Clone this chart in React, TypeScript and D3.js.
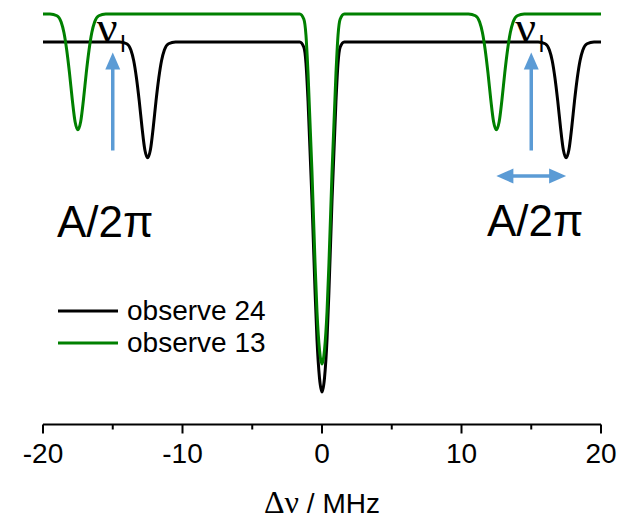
import React from "react";
import * as d3 from "d3";

// Frequency offset (MHz) and relative signal for the two traces
const black24X = [-20, -14.5, -14.0, -13.7, -13.5, -13.3, -13.1, -12.9, -12.7, -12.5, -12.3, -12.1, -11.9, -11.7, -11.5, -11.3, -11.0, -10.5,
  -1.6, -1.3, -1.15, -1.0, -0.72, -0.5, -0.36, -0.18, 0, 0.18, 0.36, 0.5, 0.72, 1.0, 1.15, 1.3, 1.6,
  15.5, 16.0, 16.3, 16.5, 16.7, 16.9, 17.1, 17.3, 17.5, 17.7, 17.9, 18.1, 18.3, 18.5, 18.7, 19.0, 19.5, 20];
const black24Y = [0, 0, -0.005, -0.023, -0.053, -0.103, -0.169, -0.245, -0.308, -0.331, -0.308, -0.245, -0.169, -0.103, -0.053, -0.023, -0.005, 0,
  0, -0.015, -0.06, -0.17, -0.45, -0.71, -0.85, -0.96, -1.0, -0.96, -0.85, -0.71, -0.45, -0.17, -0.06, -0.015, 0,
  0, -0.005, -0.023, -0.053, -0.103, -0.169, -0.245, -0.308, -0.331, -0.308, -0.245, -0.169, -0.103, -0.053, -0.023, -0.005, 0, 0];

const green13X = [-20, -19.5, -19.0, -18.7, -18.5, -18.3, -18.1, -17.9, -17.7, -17.5, -17.3, -17.1, -16.9, -16.7, -16.5, -16.3, -16.0, -15.5,
  -1.6, -1.3, -1.15, -1.0, -0.72, -0.5, -0.36, -0.18, 0, 0.18, 0.36, 0.5, 0.72, 1.0, 1.15, 1.3, 1.6,
  10.5, 11.0, 11.3, 11.5, 11.7, 11.9, 12.1, 12.3, 12.5, 12.7, 12.9, 13.1, 13.3, 13.5, 13.7, 14.0, 14.5, 20];
const green13Y = [0.08, 0.08, 0.075, 0.057, 0.027, -0.023, -0.089, -0.165, -0.228, -0.251, -0.228, -0.165, -0.089, -0.023, 0.027, 0.057, 0.075, 0.08,
  0.08, 0.065, 0.02, -0.09, -0.37, -0.63, -0.77, -0.88, -0.92, -0.88, -0.77, -0.63, -0.37, -0.09, 0.02, 0.065, 0.08,
  0.08, 0.075, 0.057, 0.027, -0.023, -0.089, -0.165, -0.228, -0.251, -0.228, -0.165, -0.089, -0.023, 0.027, 0.057, 0.075, 0.08, 0.08];

const seriesNames = ["observe 24", "observe 13"];
const seriesColors = ["#000000", "#008000"];

const majorTicks = [-20, -10, 0, 10, 20];
const minorTicks = [-15, -5, 5, 15];

// Annotation anchors (MHz, signal)
const larmorX = [-15, 15];
const arrowFrom = -0.31;
const arrowTo = -0.03;
const splitting = [12.5, 17.5];
const splitY = -0.383;

const BLUE = "#5B9BD5";
const SANS = "'Liberation Sans', Arial, sans-serif";
const SERIF = "'Liberation Serif', 'Times New Roman', serif";

export default function App() {
  const W = 621, H = 521;
  const x = d3.scaleLinear().domain([-20, 20]).range([43, 601]);
  const y = d3.scaleLinear().domain([-1, 0.08]).range([392, 14]);
  const axisY = 424.5;

  const line = d3
    .line<[number, number]>()
    .x((d) => x(d[0]))
    .y((d) => y(d[1]))
    .curve(d3.curveMonotoneX);

  const blackPts = black24X.map((v, i) => [v, black24Y[i]] as [number, number]);
  const greenPts = green13X.map((v, i) => [v, green13Y[i]] as [number, number]);

  const headLen = 17, headHalf = 7.5;

  return (
    <svg width={W} height={H} style={{ position: "absolute", left: 0, top: 0, background: "#fff" }}>
      <path d={line(blackPts) || ""} fill="none" stroke={seriesColors[0]} strokeWidth={3} strokeLinejoin="round" />
      <path d={line(greenPts) || ""} fill="none" stroke={seriesColors[1]} strokeWidth={3} strokeLinejoin="round" />

      {/* nuclear Larmor frequency markers */}
      {larmorX.map((lx, i) => {
        const cx = x(lx);
        const yb = y(arrowFrom);
        const yt = y(arrowTo);
        return (
          <g key={"lar" + i}>
            <line x1={cx} x2={cx} y1={yb} y2={yt + headLen - 1} stroke={BLUE} strokeWidth={3.5} />
            <polygon points={`${cx},${yt} ${cx - headHalf},${yt + headLen} ${cx + headHalf},${yt + headLen}`} fill={BLUE} />
            <text x={cx - 16} y={43} fontFamily={SERIF} fontSize={46} fill="#000">ν</text>
            <text x={cx + 7} y={52} fontFamily={SANS} fontSize={23} fill="#000">I</text>
          </g>
        );
      })}

      {/* hyperfine splitting arrow */}
      {(() => {
        const x1 = x(splitting[0]);
        const x2 = x(splitting[1]);
        const yy = y(splitY);
        return (
          <g>
            <line x1={x1 + headLen - 2} x2={x2 - headLen + 2} y1={yy} y2={yy} stroke={BLUE} strokeWidth={3.5} />
            <polygon points={`${x1},${yy} ${x1 + headLen},${yy - headHalf} ${x1 + headLen},${yy + headHalf}`} fill={BLUE} />
            <polygon points={`${x2},${yy} ${x2 - headLen},${yy - headHalf} ${x2 - headLen},${yy + headHalf}`} fill={BLUE} />
          </g>
        );
      })()}

      <text x={57} y={237} fontFamily={SANS} fontSize={44} fill="#000">A/2π</text>
      <text x={487} y={236} fontFamily={SANS} fontSize={44} fill="#000">A/2π</text>

      {/* legend */}
      {seriesNames.map((name, i) => (
        <g key={name}>
          <line x1={58} x2={118} y1={311 + i * 32} y2={311 + i * 32} stroke={seriesColors[i]} strokeWidth={3} />
          <text x={127} y={320 + i * 32} fontFamily={SANS} fontSize={28} fill="#000">{name}</text>
        </g>
      ))}

      {/* x axis */}
      <line x1={x(-20)} x2={x(20)} y1={axisY} y2={axisY} stroke="#000" strokeWidth={2} />
      {majorTicks.map((t) => (
        <g key={"M" + t}>
          <line x1={x(t)} x2={x(t)} y1={axisY} y2={axisY + 9} stroke="#000" strokeWidth={2} />
          <text x={x(t)} y={463} textAnchor="middle" fontFamily={SANS} fontSize={28} fill="#000">{t}</text>
        </g>
      ))}
      {minorTicks.map((t) => (
        <line key={"m" + t} x1={x(t)} x2={x(t)} y1={axisY} y2={axisY + 5} stroke="#000" strokeWidth={2} />
      ))}
      <text x={322} y={513} textAnchor="middle" fill="#000">
        <tspan fontFamily={SERIF} fontSize={32}>Δν</tspan>
        <tspan fontFamily={SANS} fontSize={28}> / MHz</tspan>
      </text>
    </svg>
  );
}
